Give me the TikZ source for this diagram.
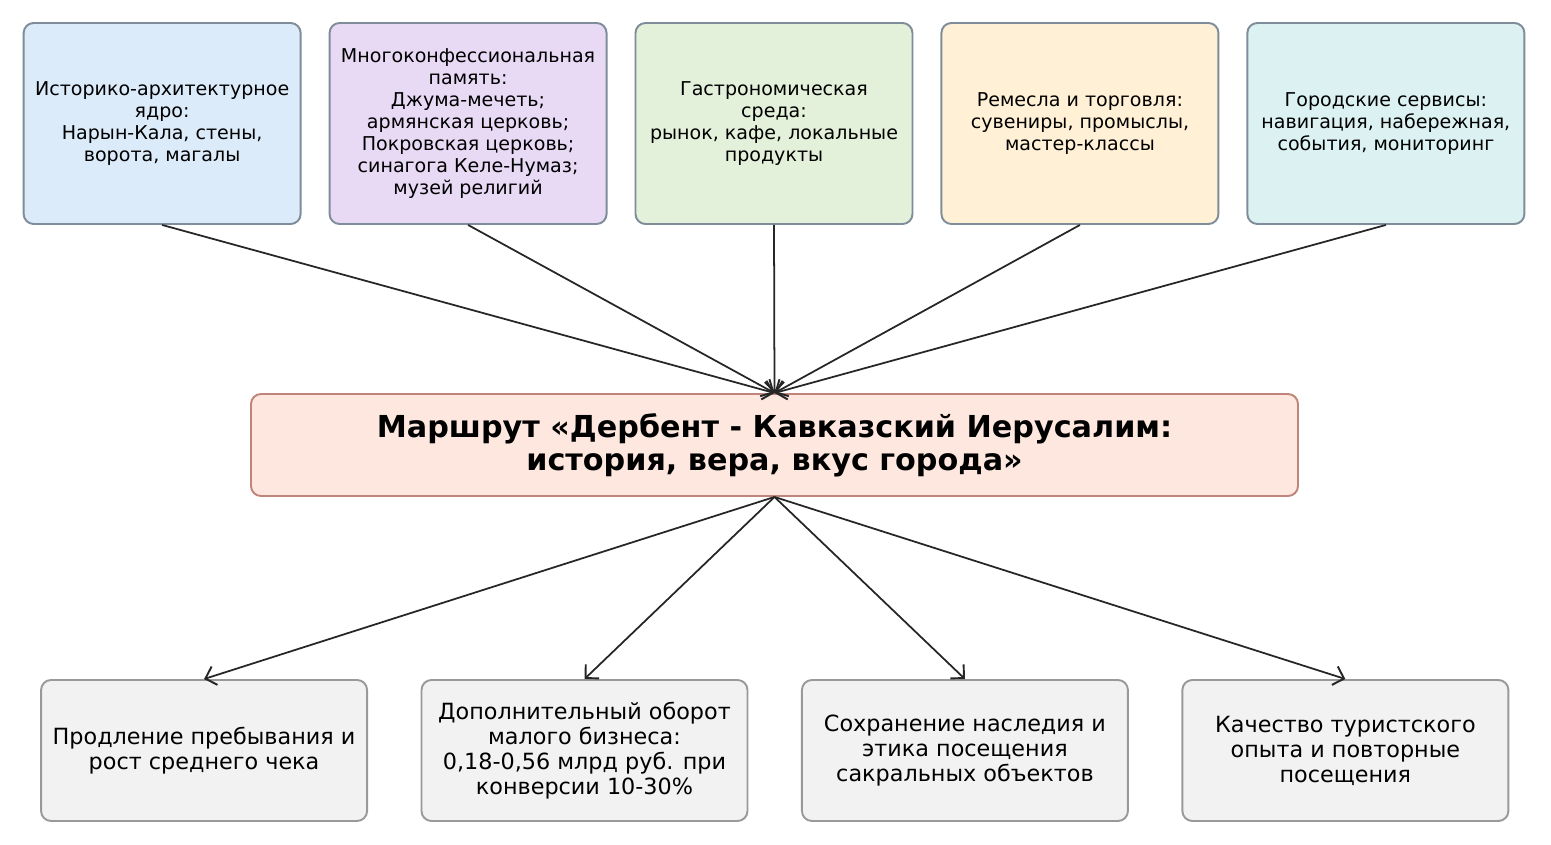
\documentclass[tikz,border=0pt]{standalone}
\usepackage{fontspec}
\setmainfont{DejaVu Sans}
\usetikzlibrary{positioning}
\usetikzlibrary{arrows.meta}

\definecolor{boxblue}{HTML}{DCEBFA}
\definecolor{boxlilac}{HTML}{E8DAF5}
\definecolor{boxgreen}{HTML}{E3F0DA}
\definecolor{boxsand}{HTML}{FFF0D6}
\definecolor{boxteal}{HTML}{DCF2F2}
\definecolor{topedge}{HTML}{7F8C99}
\definecolor{mainfill}{HTML}{FDE7DE}
\definecolor{mainedge}{HTML}{C0857A}
\definecolor{outfill}{HTML}{F2F2F2}
\definecolor{outedge}{HTML}{999999}
\definecolor{arrowcol}{HTML}{262626}

\tikzset{
    source/.style={draw=topedge, line width=1.1pt, rounded corners=0.2cm, minimum width=5.54cm, minimum height=4.02cm, align=center, font=\fontsize{10.85}{12.6}\selectfont},
    hub/.style={draw=mainedge, fill=mainfill, line width=1.1pt, rounded corners=0.2cm, minimum width=20.94cm, minimum height=2.04cm, align=center, font=\fontsize{17.2}{19}\selectfont\bfseries},
    result/.style={draw=outedge, fill=outfill, line width=1.1pt, rounded corners=0.2cm, minimum width=6.52cm, minimum height=2.82cm, align=center, font=\fontsize{12.7}{14.2}\selectfont},
    link/.style={draw=arrowcol, line width=1pt, -{Straight Barb[length=5.5pt, width=11pt, line width=1.1pt]}},
}

\begin{document}
\begin{tikzpicture}
    \useasboundingbox (0,0) rectangle (31.02,-16.9);

    % central route
    \node[hub] (route) at (15.49,-8.9) {Маршрут «Дербент - Кавказский Иерусалим:\\история, вера, вкус города»};

    % inputs
    \node[source, fill=boxgreen] (food) at (15.48,-2.47) {Гастрономическая\\среда:\\рынок, кафе, локальные\\продукты};
    \node[source, fill=boxlilac, left=0.54cm of food] (faith) {Многоконфессиональная\\память:\\Джума-мечеть;\\армянская церковь;\\Покровская церковь;\\синагога Келе-Нумаз;\\музей религий};
    \node[source, fill=boxblue, left=0.54cm of faith] (core) {Историко-архитектурное\\ядро:\\Нарын-Кала, стены,\\ворота, магалы};
    \node[source, fill=boxsand, right=0.54cm of food] (craft) {Ремесла и торговля:\\сувениры, промыслы,\\мастер-классы};
    \node[source, fill=boxteal, right=0.54cm of craft] (city) {Городские сервисы:\\навигация, набережная,\\события, мониторинг};

    % outputs
    \node[result] (income) at (11.69,-15.01) {Дополнительный оборот\\малого бизнеса:\\0,18-0,56 млрд руб. при\\конверсии 10-30\%};
    \node[result, left=1.05cm of income] (stay) {Продление пребывания и\\рост среднего чека};
    \node[result, right=1.05cm of income] (heritage) {Сохранение наследия и\\этика посещения\\сакральных объектов};
    \node[result, right=1.05cm of heritage] (quality) {Качество туристского\\опыта и повторные\\посещения};

    \foreach \src in {core, faith, food, craft, city}
        \draw[link] (\src.south) -- (route.north);
    \foreach \dst in {stay, income, heritage, quality}
        \draw[link] (route.south) -- (\dst.north);
\end{tikzpicture}
\end{document}
